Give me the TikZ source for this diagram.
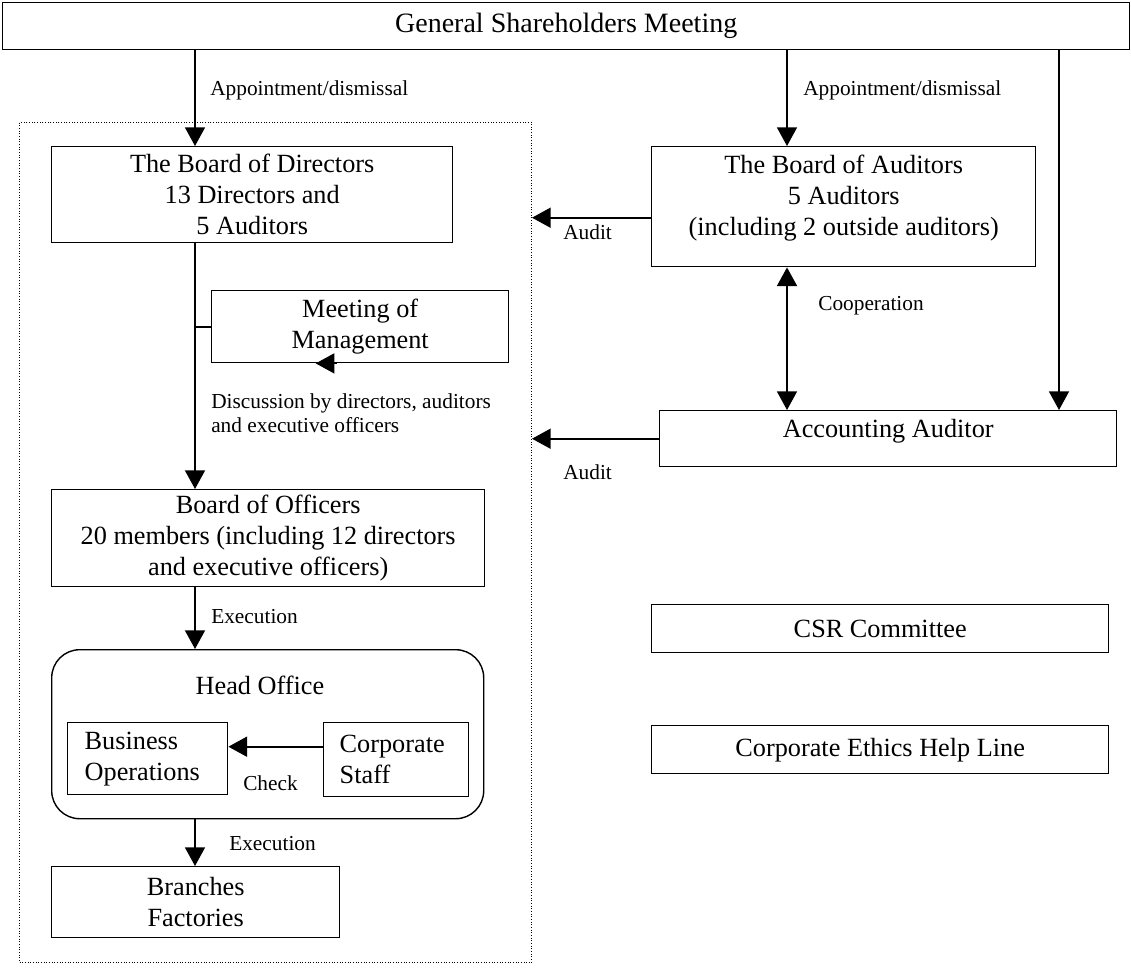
\documentclass[tikz,border=0pt]{standalone}
\usepackage{fontspec}
\setmainfont{Liberation Serif}
\usetikzlibrary{positioning, arrows.meta}

\newcommand{\padbelow}[1]{\rule[-#1]{0pt}{#1}}

\tikzset{
  box/.style={draw, line width=1.05pt, inner sep=0pt, align=center, anchor=north west,
    font=\fontsize{19.7}{23.25}\selectfont},
  wh/.style 2 args={minimum width=#1*0.75pt, minimum height=#2*0.75pt},
  lbl/.style={inner sep=0pt, anchor=base west, font=\fontsize{16}{18}\selectfont},
  arr/.style={line width=1.25pt, -{Triangle[length=14pt,width=15pt]}},
  darr/.style={line width=1.25pt, {Triangle[length=14pt,width=15pt]}-{Triangle[length=14pt,width=15pt]}},
  conn/.style={line width=1.25pt},
  dotframe/.style={draw, dash pattern=on 0.75pt off 1.25pt, line width=0.75pt, inner sep=0pt, anchor=north west}
}

\begin{document}
\begin{tikzpicture}[x=0.75pt, y=-0.75pt]
        \useasboundingbox (0,0) rectangle (1131,967);

        \node[box, wh={1127}{47}, font=\fontsize{21}{25}\selectfont] (gsm) at (2,2) {General Shareholders Meeting};
        \node[dotframe, wh={512}{840}] (grp) at (19,122) {};

        % left column
        \node[box, wh={401}{96}] (bod) at (51,146) {The Board of Directors\\13 Directors and\\5 Auditors};
        \node[box, wh={297}{72}] (mom) at (211,290) {Meeting of\\Management};
        \node[box, wh={433}{97}] (boo) at (51,489) {Board of Officers\\20 members (including 12 directors\\and executive officers)};
        \node[box, wh={432}{169}, rounded corners=21pt] (ho) at (51,649) {};
        \node[inner sep=0pt, font=\fontsize{19.7}{23.25}\selectfont] (hotitle) at (260,685) {Head Office};
        \node[box, wh={160}{72}, align=left, text width=94.5pt] (bo) at (67,722) {Business\\Operations};
        \node[box, wh={145}{74}, align=left, text width=84.75pt] (cs) at (323,722) {Corporate\\Staff};
        \node[box, wh={288}{71}] (bf) at (51,866) {Branches\\Factories};

        % right column
        \node[box, wh={384}{120}] (boa) at (651,146) {The Board of Auditors\\5 Auditors\\(including 2 outside auditors)\padbelow{17.5pt}};
        \node[box, wh={457}{56}] (aa) at (659,410) {Accounting Auditor\padbelow{16pt}};
        \node[box, wh={457}{48}] (csr) at (651,604) {CSR Committee};
        \node[box, wh={457}{48}] (ethics) at (651,725) {Corporate Ethics Help Line};

        \coordinate (axis) at (195,0);
        \coordinate (axisb) at (787,0);
        \coordinate (axisc) at (1059,0);
        \coordinate (auda) at ([yshift=-8.25pt]boa.west);
        \coordinate (chk) at ([yshift=9.75pt]cs.west);

        \draw[arr] (gsm.south -| axis) -- (bod.north -| axis);
        \draw[arr] (gsm.south -| axisb) -- (boa.north -| axisb);
        \draw[arr] (gsm.south -| axisc) -- (aa.north -| axisc);
        \draw[arr] (bod.south -| axis) -- (boo.north -| axis);
        \draw[conn] (mom.west) -- (mom.west -| axis);
        \draw[arr] (mom.south) ++(-23.5,0) -- ++(-21,0);
        \draw[arr] (boo.south -| axis) -- (ho.north -| axis);
        \draw[arr] (ho.south -| axis) -- (bf.north -| axis);
        \draw[arr] (chk) -- (chk -| bo.east);
        \draw[arr] (auda) -- (auda -| grp.east);
        \draw[arr] (aa.west) -- (aa.west -| grp.east);
        \draw[darr] (boa.south -| axisb) -- (aa.north -| axisb);

        % connector labels
        \node[lbl] (lapp1) at (210,95) {Appointment/dismissal};
        \node[lbl] (lapp2) at (803,95) {Appointment/dismissal};
        \node[lbl] (laud1) at (563,239) {Audit};
        \node[lbl] (laud2) at (563,479) {Audit};
        \node[lbl] (lcoop) at (818,310) {Cooperation};
        \node[lbl, anchor=north west, align=left] (ldisc) at (211,393) {Discussion by directors, auditors\\and executive officers};
        \node[lbl] (lexe1) at (211,623) {Execution};
        \node[lbl] (lexe2) at (229,850) {Execution};
        \node[lbl] (lchk) at (243,790) {Check};
\end{tikzpicture}
\end{document}
